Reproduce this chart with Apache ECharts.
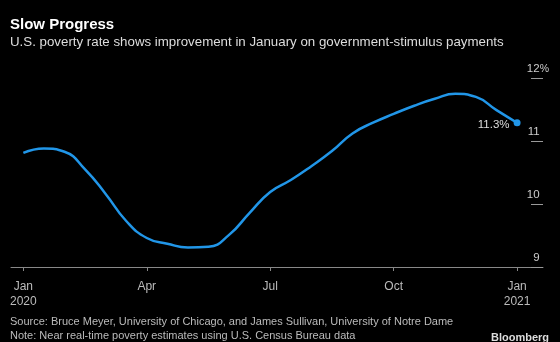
<!DOCTYPE html>
<html>
<head>
<meta charset="utf-8">
<script src="https://cdn.jsdelivr.net/npm/echarts@6/dist/echarts.min.js"></script>
<style>
html,body{margin:0;padding:0;background:#000;}
#c{width:560px;height:342px;}
</style>
</head>
<body>
<div id="c"></div>
<script>
// x position in months since Jan 2020 (half-month readings)
var monthPos = [0, 0.5, 1, 1.5, 2, 2.5, 3, 3.5, 4, 4.5, 5, 5.5, 6, 6.5, 7, 7.5, 8, 8.5, 9, 9.5, 10, 10.5, 11, 11.5, 12];
var povertyRate = [10.81, 10.88, 10.83, 10.55, 10.16, 9.73, 9.46, 9.37, 9.31, 9.32, 9.51, 9.86, 10.19, 10.38, 10.60, 10.84, 11.12, 11.29, 11.43, 11.56, 11.67, 11.75, 11.70, 11.49, 11.29];
var xTickIndex = [0, 3, 6, 9, 12];
var xTickLabels = ['Jan\n2020', 'Apr', 'Jul', 'Oct', 'Jan\n2021'];

var seriesData = povertyRate.map(function (v, i) { return [monthPos[i], v]; });
var last = seriesData.length - 1;

var chart = echarts.init(document.getElementById('c'));
var font = 'Liberation Sans';
chart.setOption({
  backgroundColor: '#000',
  animation: false,
  title: [
    { text: 'Slow Progress', left: 5, top: 12, textStyle: { color: '#fff', fontSize: 15, fontWeight: 'bold', fontFamily: font } },
    { text: 'U.S. poverty rate shows improvement in January on government-stimulus payments', left: 5, top: 31, textStyle: { color: '#ddd', fontSize: 13.3, fontWeight: 'normal', fontFamily: font } },
    { text: 'Source: Bruce Meyer, University of Chicago, and James Sullivan, University of Notre Dame', left: 5, top: 311, textStyle: { color: '#bbb', fontSize: 11, fontWeight: 'normal', fontFamily: font } },
    { text: 'Note: Near real-time poverty estimates using U.S. Census Bureau data', left: 5, top: 325, textStyle: { color: '#bbb', fontSize: 11, fontWeight: 'normal', fontFamily: font } },
    { text: 'Bloomberg', right: 6, top: 327, textStyle: { color: '#ddd', fontSize: 11, fontWeight: 'bold', fontFamily: font } }
  ],
  grid: { left: 11, right: 17, top: 78, bottom: 75 },
  xAxis: {
    type: 'value',
    min: -0.3,
    max: 12.63,
    axisLine: { show: true, onZero: false, lineStyle: { color: '#888', width: 1 } },
    axisTick: { show: true, length: 4, lineStyle: { color: '#888' }, customValues: xTickIndex },
    axisLabel: {
      color: '#bbb', fontSize: 12, fontFamily: font, lineHeight: 15, margin: 12,
      customValues: xTickIndex,
      formatter: function (v) { var k = xTickIndex.indexOf(Math.round(v)); return k >= 0 ? xTickLabels[k] : ''; }
    },
    splitLine: { show: false }
  },
  yAxis: {
    type: 'value',
    position: 'right',
    offset: -12,
    min: 9,
    max: 12,
    interval: 1,
    axisLine: { show: false, onZero: false },
    axisTick: { show: true, inside: false, length: 12, lineStyle: { color: '#999' } },
    axisLabel: {
      inside: false, margin: 18, align: 'right', color: '#ccc', fontSize: 11.5, fontFamily: font,
      verticalAlign: 'bottom', padding: [0, 0, 3, 0],
      formatter: function (v) { return v === 12 ? v + '{p|%}' : v + '{h|%}'; },
      rich: {
        p: { color: '#ccc', fontSize: 10.5, fontFamily: font },
        h: { color: 'transparent', fontSize: 10.5, fontFamily: font }
      }
    },
    splitLine: { show: false }
  },
  series: [{
    type: 'line',
    data: seriesData,
    smooth: 0.5,
    showSymbol: true,
    symbol: 'circle',
    symbolSize: function (v, p) { return p.dataIndex === last ? 7 : 0; },
    lineStyle: { color: '#2196e8', width: 2.5 },
    itemStyle: { color: '#2196e8' },
    label: {
      show: true,
      position: 'left',
      distance: 4,
      color: '#ddd',
      fontSize: 11.5,
      fontFamily: font,
      offset: [0, 2],
      formatter: function (p) { return p.dataIndex === last ? p.value[1].toFixed(1) + '%' : ''; }
    }
  }]
});
</script>
</body>
</html>
